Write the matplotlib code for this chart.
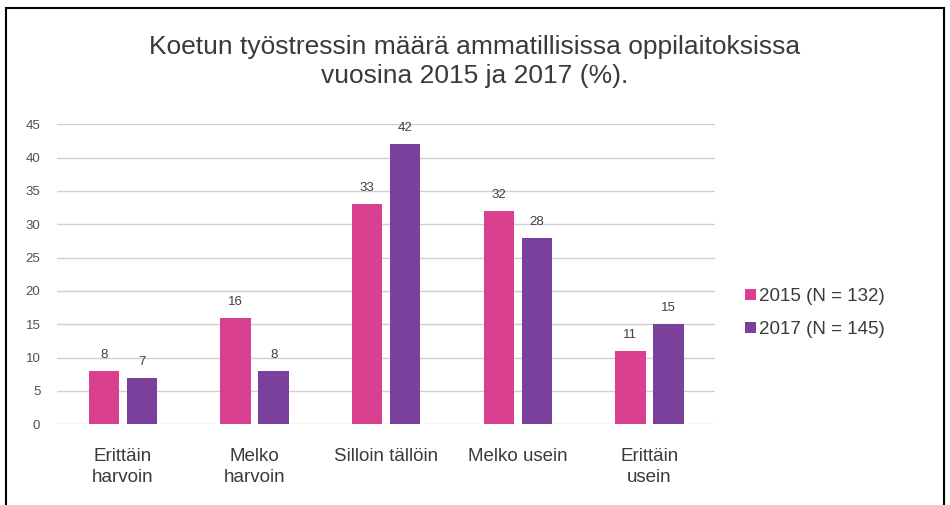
import matplotlib
matplotlib.use("Agg")
import matplotlib.pyplot as plt
import numpy as np
from matplotlib.patches import Rectangle

categories = ["Erittäin\nharvoin", "Melko\nharvoin", "Silloin tällöin", "Melko usein", "Erittäin\nusein"]
series_names = ["2015 (N = 132)", "2017 (N = 145)"]
values_2015 = [8, 16, 33, 32, 11]
values_2017 = [7, 8, 42, 28, 15]
yticks = [0, 5, 10, 15, 20, 25, 30, 35, 40, 45]
title = "Koetun työstressin määrä ammatillisissa oppilaitoksissa\nvuosina 2015 ja 2017 (%)."

plt.rcParams['font.family'] = ['Liberation Sans', 'DejaVu Sans']

fig = plt.figure(figsize=(9.5, 5.05), dpi=100)
fig.patch.set_facecolor('white')
ax = fig.add_axes([0.06, 0.16, 0.693, 0.594])

x = np.arange(len(categories))
w = 0.23
off = 0.145
pink = '#d9408f'
purple = '#7b3f9c'
b1 = ax.bar(x - off, values_2015, w, color=pink, label=series_names[0], zorder=3)
b2 = ax.bar(x + off, values_2017, w, color=purple, label=series_names[1], zorder=3)

for bars, vals in ((b1, values_2015), (b2, values_2017)):
    for r, v in zip(bars, vals):
        ax.text(r.get_x() + r.get_width() / 2, v + 1.5, str(v), ha='center', va='bottom',
                fontsize=9.5, color='#404040')

ax.set_xlim(-0.5, len(categories) - 0.5)
ax.set_ylim(0, 45)
ax.set_yticks(yticks)
ax.set_yticklabels([str(t) for t in yticks], fontsize=9.5, color='#505050')
ax.yaxis.grid(True, color='#d0d0d0', linewidth=1.0, zorder=0)
ax.set_axisbelow(True)
ax.tick_params(axis='y', length=0, pad=12)
ax.tick_params(axis='x', length=0, pad=17)
ax.set_xticks(x)
ax.set_xticklabels(categories, fontsize=13.5, color='#3a3a3a', linespacing=1.35, va='top')
for s in ax.spines.values():
    s.set_visible(False)

fig.text(0.5, 0.93, title, ha='center', va='top', fontsize=19, color='#3a3a3a', linespacing=1.25)

leg = ax.legend(loc='center left', bbox_to_anchor=(1.02, 0.37), frameon=False, fontsize=13.5,
                handlelength=0.55, handleheight=0.55, handletextpad=0.2, labelspacing=0.85,
                labelcolor='#3a3a3a')

fig.patches.append(Rectangle((0.006, -0.01), 0.988, 0.995, transform=fig.transFigure,
                             fill=False, edgecolor='black', linewidth=1.5))

fig.savefig("out.png", dpi=100)
